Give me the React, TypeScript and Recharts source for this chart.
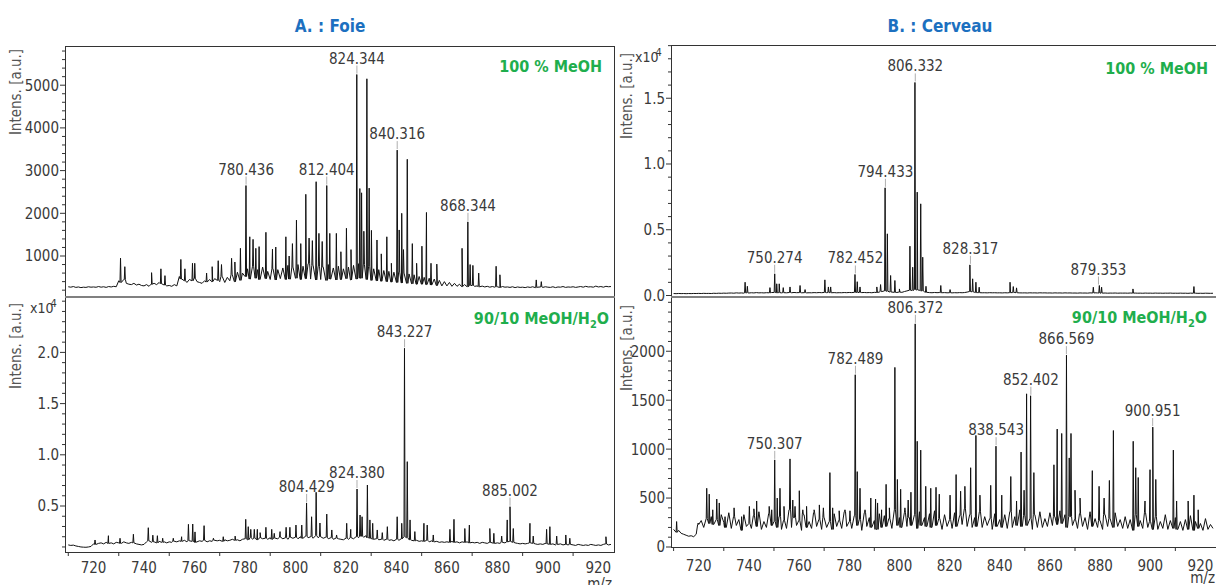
import React from "react";
import { ComposedChart, Line, Scatter, XAxis, YAxis } from "recharts";

const FONT = "'DejaVu Sans Condensed', 'DejaVu Sans', sans-serif";
const INK = "#3a3a3a";
const BLUE = "#1c70c0";
const GREEN = "#1fae4d";

// m/z axis
const MZ0 = 710;
const xLabelTicks = [720, 740, 760, 780, 800, 820, 840, 860, 880, 900, 920];
const xMinorTicks = [710, 730, 750, 770, 790, 810, 830, 850, 870, 890, 910];

// y tick labels
const foieMeohTicks = [1000, 2000, 3000, 4000, 5000];
const foieH2oTicks = [5000, 10000, 15000, 20000];
const cerveauMeohTicks = [0, 5000, 10000, 15000];
const cerveauH2oTicks = [0, 500, 1000, 1500, 2000];

// baselines, one value per m/z from 710 to 925
const foieMeohBase = [
  280, 270, 285, 265, 275, 260, 270, 265, 280, 270,
  275, 268, 285, 270, 280, 265, 285, 275, 290, 280,
  420, 380, 450, 360, 340, 330, 360, 320, 340, 310,
  300, 330, 290, 340, 360, 330, 380, 350, 320, 300,
  310, 290, 330, 300, 520, 460, 420, 380, 450, 420,
  480, 400, 380, 360, 420, 390, 450, 400, 470, 430,
  400, 520, 380, 500, 420, 560, 400, 620, 430, 600,
  520, 700, 460, 760, 480, 680, 450, 740, 470, 640,
  450, 700, 440, 680, 470, 720, 450, 780, 460, 740,
  480, 800, 450, 760, 470, 820, 460, 780, 440, 760,
  450, 740, 430, 800, 460, 720, 440, 760, 450, 700,
  470, 740, 440, 780, 460, 820, 480, 800, 450, 760,
  430, 700, 420, 680, 410, 660, 400, 640, 390, 620,
  380, 620, 370, 600, 360, 580, 350, 560, 340, 520,
  340, 500, 330, 480, 320, 460, 310, 430, 300, 400,
  300, 380, 290, 360, 290, 340, 285, 330, 280, 310,
  310, 290, 300, 280, 295, 275, 290, 270, 285, 270,
  280, 265, 285, 270, 275, 265, 280, 260, 275, 265,
  270, 260, 275, 265, 280, 260, 270, 275, 265, 280,
  270, 265, 280, 260, 275, 270, 285, 265, 275, 270,
  280, 265, 275, 285, 270, 290, 275, 280, 270, 295,
  275, 285, 270, 290, 280, 285,
];

const foieMeohPeaks = [
  [730.7, 950], [732.4, 750], [743, 610], [746.7, 700], [748.3, 540], [754.6, 920],
  [756.2, 700], [759.2, 830], [760.1, 830], [764.8, 600], [767, 750], [769.4, 890],
  [770.7, 800], [774.7, 946], [776, 860], [778.2, 1180], [780.4, 2650], [781.9, 1450],
  [783.2, 1390], [784.3, 1180], [785.6, 1220], [788.3, 1555], [790.9, 1160], [792.2, 1210],
  [796.2, 1450], [797.5, 1000], [798.8, 1290], [800.4, 1840], [802.1, 1290], [804.1, 2445],
  [805.4, 1420], [806.7, 1360], [808.2, 2740], [809.3, 1530], [810.6, 1340], [812.4, 2650],
  [813.6, 1530], [816.2, 1530], [818, 1100], [820.2, 1650], [822, 1150], [824.3, 5250],
  [825.5, 2580], [826.2, 2480], [827.1, 1580], [828.3, 5150], [829.2, 2590], [830.1, 1600],
  [832.3, 1375], [834, 1050], [836.2, 1450], [838, 830], [840.3, 3480], [841.1, 1610],
  [842.1, 2000], [842.8, 1150], [844.3, 3265], [846.3, 1290], [848, 830], [850.1, 1230],
  [851.9, 2020], [853.7, 830], [856, 810], [866, 1180], [868.3, 1800], [869.2, 800],
  [870.3, 780], [872.6, 600], [879.5, 760], [881, 560], [895.4, 440], [897.4, 400],
];

const foieMeohLabels = [[780.436, 2650], [812.404, 2650], [824.344, 5250], [840.316, 3480], [868.344, 1800]];

const foieH2oBase = [
  1200, 1150, 1180, 1100, 1050, 1000, 980, 970, 1000, 1050,
  1300, 1250, 1350, 1400, 1300, 1450, 1350, 1400, 1300, 1450,
  1400, 1350, 1500, 1400, 1350, 1450, 1400, 1300, 1250, 1200,
  1250, 1500, 1600, 1450, 1500, 1400, 1550, 1450, 1500, 1400,
  1500, 1450, 1550, 1500, 1600, 1550, 1650, 1500, 1600, 1550,
  1450, 1500, 1600, 1550, 1650, 1500, 1600, 1550, 1650, 1600,
  1650, 1550, 1700, 1600, 1650, 1750, 1650, 1700, 1600, 1750,
  1800, 1700, 1900, 1750, 1850, 1700, 1900, 1800, 1850, 1750,
  1900, 1750, 1850, 1800, 1950, 1800, 1900, 1750, 1950, 1850,
  1950, 1800, 2000, 1850, 2050, 1900, 2000, 1850, 2100, 1900,
  2000, 1850, 1950, 1800, 1900, 1750, 1850, 1800, 1750, 1700,
  1850, 1750, 1900, 1800, 2000, 1900, 2050, 1950, 2100, 1900,
  1850, 1750, 1800, 1700, 1750, 1650, 1750, 1650, 1700, 1600,
  1750, 1650, 1800, 2000, 1900, 1700, 1650, 1600, 1650, 1550,
  1600, 1550, 1650, 1500, 1600, 1500, 1550, 1450, 1500, 1450,
  1500, 1450, 1550, 1450, 1500, 1400, 1500, 1450, 1500, 1400,
  1450, 1400, 1450, 1350, 1450, 1400, 1350, 1450, 1400, 1350,
  1400, 1350, 1450, 1400, 1500, 1550, 1450, 1400, 1350, 1300,
  1350, 1300, 1350, 1400, 1350, 1300, 1250, 1300, 1250, 1350,
  1300, 1250, 1300, 1200, 1250, 1300, 1200, 1250, 1200, 1250,
  1200, 1150, 1250, 1200, 1150, 1200, 1150, 1250, 1200, 1150,
  1200, 1150, 1250, 1300, 1200, 1250,
];

const foieH2oPeaks = [
  [720.6, 1680], [725.9, 2100], [730.5, 1850], [735.8, 2240], [741.7, 2880], [743.5, 2150],
  [745.3, 2100], [747.4, 1850], [751.6, 1850], [754.9, 2000], [757.6, 3210], [759.3, 3240],
  [760.2, 2470], [763.8, 3080], [767.5, 1850], [771.4, 2000], [776.1, 2060], [780.3, 3700],
  [781.3, 2980], [782.3, 2720], [783.7, 2720], [784.9, 2720], [786, 2400], [788.3, 2920],
  [790.6, 2720], [791.6, 2330], [793.9, 2500], [796.3, 2920], [797.8, 2920], [800.2, 3140],
  [802.5, 3140], [804.4, 5300], [806.4, 3950], [808.2, 6340], [809.7, 3340], [812.4, 4210],
  [814.4, 2660], [816.3, 2170], [820.3, 3310], [821.9, 2720], [824.4, 6660], [825.6, 4120],
  [826.4, 3950], [828.5, 7050], [829.5, 3640], [830.6, 3310], [832.4, 2660], [834.4, 2400],
  [836.4, 2980], [840.3, 3950], [842.1, 3310], [843.2, 20400], [844.3, 9330], [845.4, 3640],
  [847.3, 2500], [850.9, 3310], [852.2, 3140], [854.6, 2170], [861.2, 2720], [862.8, 3700],
  [867.1, 2800], [868.9, 3140], [877, 2800], [878.6, 2330], [881.7, 2060], [883.9, 3640],
  [885, 4930], [886.3, 2800], [892.9, 3310], [894.2, 2060], [899.5, 2720], [900.8, 2980],
  [903.5, 2060], [907.1, 2170], [908.7, 1850], [923, 2000],
];

const foieH2oLabels = [[804.429, 5300], [824.38, 6660], [843.227, 20400], [885.002, 4930]];

const cerveauMeohBase = [
  150, 140, 155, 145, 150, 140, 150, 145, 155, 150,
  160, 150, 165, 155, 160, 150, 170, 160, 175, 165,
  180, 170, 185, 190, 175, 200, 185, 195, 180, 200,
  190, 210, 195, 220, 200, 210, 195, 215, 205, 225,
  230, 210, 220, 200, 215, 205, 225, 210, 230, 215,
  220, 205, 215, 200, 210, 205, 220, 210, 225, 215,
  230, 215, 225, 210, 220, 205, 215, 210, 225, 215,
  230, 220, 240, 225, 235, 220, 230, 215, 225, 210,
  240, 230, 260, 300, 350, 320, 280, 260, 240, 230,
  260, 240, 300, 350, 400, 380, 450, 420, 400, 350,
  280, 240, 220, 210, 230, 215, 225, 210, 220, 205,
  210, 200, 215, 205, 220, 210, 225, 260, 300, 280,
  240, 220, 215, 205, 210, 200, 215, 205, 210, 200,
  205, 195, 210, 200, 215, 220, 230, 210, 200, 195,
  200, 190, 205, 195, 200, 190, 205, 195, 200, 190,
  195, 185, 200, 190, 195, 185, 200, 190, 195, 185,
  190, 180, 195, 185, 190, 180, 200, 190, 205, 195,
  185, 180, 190, 175, 185, 180, 190, 175, 185, 180,
  185, 175, 190, 180, 185, 175, 180, 170, 185, 175,
  180, 170, 185, 175, 180, 170, 180, 175, 185, 170,
  175, 170, 180, 170, 175, 165, 180, 170, 175, 165,
  170, 165, 175, 170, 165, 170,
];

const cerveauMeohPeaks = [
  [738.5, 1010], [739.4, 700], [748.4, 600], [750.3, 1650], [751.1, 890], [752.1, 890],
  [753.7, 600], [756.4, 650], [760.4, 760], [762.4, 450], [770.3, 1190], [771.7, 650],
  [772.6, 650], [782.3, 1600], [783.2, 1050], [784.3, 650], [791, 650], [792.5, 830],
  [794.3, 8190], [795.2, 4690], [796.5, 1520], [798.2, 1140], [800, 500], [804.2, 3750],
  [805.3, 2150], [806.2, 16200], [807.1, 7860], [808.5, 6970], [809.3, 2910], [810.6, 700],
  [816.5, 760], [820.2, 450], [828.1, 2330], [829.2, 1270], [830.5, 1010], [831.8, 630],
  [844.1, 1010], [845.4, 680], [846.7, 580], [877.3, 630], [879.7, 760], [880.6, 630],
  [893.1, 500], [917.4, 680],
];

const cerveauMeohLabels = [[750.274, 1650], [782.452, 1600], [794.433, 8190], [806.332, 16200], [828.317, 2330], [879.353, 760]];

const cerveauH2oBase = [
  180, 150, 170, 140, 130, 120, 110, 115, 105, 130,
  230, 270, 200, 290, 240, 310, 230, 280, 220, 330,
  250, 200, 350, 190, 310, 220, 280, 170, 330, 210,
  240, 190, 320, 210, 360, 180, 260, 200, 340, 220,
  260, 200, 310, 180, 270, 190, 380, 200, 300, 220,
  270, 170, 330, 200, 260, 190, 350, 210, 280, 180,
  300, 200, 260, 180, 340, 210, 270, 190, 360, 210,
  260, 190, 320, 220, 280, 170, 350, 210, 300, 200,
  270, 180, 340, 200, 320, 210, 290, 190, 380, 220,
  300, 200, 350, 210, 300, 220, 330, 190, 360, 220,
  300, 210, 340, 200, 370, 220, 290, 180, 330, 210,
  280, 190, 350, 210, 320, 230, 390, 210, 330, 200,
  300, 210, 360, 200, 310, 220, 290, 180, 340, 210,
  280, 200, 330, 190, 360, 200, 310, 220, 380, 210,
  320, 220, 290, 180, 330, 200, 360, 200, 290, 210,
  350, 220, 310, 230, 370, 240, 330, 200, 310, 220,
  280, 190, 340, 210, 300, 180, 360, 210, 290, 200,
  270, 180, 330, 210, 290, 200, 350, 210, 280, 190,
  310, 190, 280, 170, 330, 210, 270, 190, 350, 200,
  260, 180, 310, 180, 260, 190, 330, 180, 270, 190,
  300, 180, 260, 170, 280, 180, 320, 170, 260, 190,
  240, 170, 290, 180, 230, 190,
];

const cerveauH2oPeaks = [
  [711.2, 260], [719.8, 245], [723.2, 600], [724.2, 540], [725.6, 380], [727.2, 490],
  [728.2, 450], [730.5, 310], [734.1, 400], [737.1, 310], [740.2, 415], [742, 390],
  [743.1, 470], [748.1, 415], [749.1, 380], [750.3, 890], [751.3, 500], [752.4, 600],
  [754, 415], [756.4, 900], [757.5, 480], [758.4, 415], [760.1, 575], [761.5, 380],
  [763, 415], [766, 380], [768.1, 430], [769.7, 400], [772.3, 760], [773.4, 400],
  [776, 370], [778.3, 380], [780.3, 370], [782.4, 1760], [783.2, 770], [784.3, 600],
  [786.3, 380], [788.6, 500], [790.5, 490], [791.3, 450], [792.9, 380], [794.7, 640],
  [796, 400], [798.2, 1835], [799.2, 690], [800.5, 590], [802.2, 400], [803.5, 480],
  [804.6, 560], [806.3, 2280], [807.1, 1080], [808.5, 990], [810.5, 620], [812.5, 600],
  [814.6, 610], [815.9, 540], [820.2, 530], [822.6, 740], [824.4, 570], [826.1, 620],
  [828.4, 810], [830.5, 1140], [832.1, 530], [836.4, 630], [838.5, 1030], [840.8, 530],
  [844.4, 720], [846.7, 470], [848.5, 970], [849.7, 580], [850.7, 1565], [852.3, 1545],
  [853.6, 760], [861.6, 840], [862.9, 1205], [864.7, 1160], [866.6, 1960], [867.7, 910],
  [868.4, 1160], [870, 580], [872, 500], [876.9, 780], [879.6, 620], [881.6, 500],
  [883.7, 680], [885.3, 1190], [893.2, 1080], [894.2, 810], [895.2, 710], [897.9, 470],
  [899.9, 790], [901, 1225], [902.2, 690], [909.2, 990], [910.5, 470], [915.1, 470],
  [917.4, 530], [919.1, 380],
];

const cerveauH2oLabels = [[750.307, 890], [782.489, 1760], [806.372, 2280], [838.543, 1030], [852.402, 1545], [866.569, 1960], [900.951, 1225]];

type Pt = { mz: number; i: number };

function buildSpectrum(base: number[], peaks: number[][]): Pt[] {
  const pts: Pt[] = base.map((v, k) => ({ mz: MZ0 + k, i: v }));
  peaks.forEach(([mz, h]) => {
    const k = Math.min(base.length - 1, Math.max(0, Math.round(mz) - MZ0));
    const foot = base[k];
    pts.push({ mz: mz - 0.22, i: foot }, { mz, i: h }, { mz: mz + 0.22, i: foot });
  });
  return pts.sort((a, b) => a.mz - b.mz);
}

function steps(from: number, to: number, step: number) {
  const out: number[] = [];
  for (let v = from; v <= to + 1e-6; v += step) out.push(v);
  return out;
}

const toPts = (rows: number[][]) => rows.map(([mz, i]) => ({ mz, i }));

const PeakLabel = (p: any) => {
  const { cx, cy, payload } = p;
  if (cx == null || cy == null) return <g />;
  return (
    <g>
      <line x1={cx} x2={cx} y1={cy - 1} y2={cy - 9} stroke="#9a9a9a" strokeWidth={0.8} />
      <text x={cx} y={cy - 11} textAnchor="middle" fontFamily={FONT} fontSize={15} fill={INK}>
        {payload.mz.toFixed(3)}
      </text>
    </g>
  );
};

interface PanelProps {
  left: number;
  top: number;
  width: number;
  height: number;
  marginTop: number;
  marginBottom?: number;
  yWidth: number;
  xDomain: [number, number];
  yDomain: [number, number];
  base: number[];
  peaks: number[][];
  labels: number[][];
  yMajor: number[];
  yMinor: number[];
  fmt: (v: number) => string;
  xHeight?: number;
  labelDy?: number;
}

function Panel(props: PanelProps) {
  const { left, top, width, height, marginTop, marginBottom, yWidth, xDomain, yDomain, base, peaks, labels, yMajor, yMinor, fmt, xHeight, labelDy } = props;
  const data = buildSpectrum(base, peaks);
  const showX = !!xHeight;
  const axisY = height - (xHeight || 0);
  const xTicks = [...xMinorTicks, ...xLabelTicks].sort((a, b) => a - b);

  const yTick = (p: any) => {
    const v = p.payload.value;
    const major = yMajor.includes(v);
    return (
      <g>
        <line x1={yWidth - (major ? 5 : 3)} x2={yWidth} y1={p.y} y2={p.y} stroke="#333" strokeWidth={1} />
        {major && (
          <text x={yWidth - 6} y={p.y} dy="0.36em" textAnchor="end" fontFamily={FONT} fontSize={15} fill={INK}>
            {fmt(v)}
          </text>
        )}
      </g>
    );
  };

  const xTick = (p: any) => {
    const v = p.payload.value;
    if (v % 20 === 0) {
      return (
        <text x={p.x} y={axisY + (labelDy || 21)} textAnchor="middle" fontFamily={FONT} fontSize={15} fill={INK}>
          {v}
        </text>
      );
    }
    return <line x1={p.x} x2={p.x} y1={axisY} y2={axisY + 4} stroke="#333" strokeWidth={1} />;
  };

  return (
    <div style={{ position: "absolute", left, top }}>
      <ComposedChart
        width={width}
        height={height}
        data={data}
        margin={{ top: marginTop, right: 0, bottom: marginBottom || 0, left: 0 }}
      >
        <XAxis
          dataKey="mz"
          type="number"
          domain={xDomain}
          allowDataOverflow
          hide={!showX}
          height={xHeight || 0}
          ticks={xTicks}
          interval={0}
          tick={xTick}
          tickLine={false}
          axisLine={false}
        />
        <YAxis
          dataKey="i"
          type="number"
          domain={yDomain}
          allowDataOverflow
          width={yWidth}
          ticks={yMinor}
          interval={0}
          tick={yTick}
          tickLine={false}
          axisLine={false}
        />
        <Line dataKey="i" type="linear" stroke="#111" strokeWidth={1} dot={false} isAnimationActive={false} />
        <Scatter data={toPts(labels)} dataKey="i" shape={PeakLabel} isAnimationActive={false} />
      </ComposedChart>
    </div>
  );
}

const intFmt = (v: number) => String(v);
const e4Fmt = (v: number) => (v / 10000).toFixed(1);

export default function App() {
  const txt = { fontFamily: FONT, fill: INK };
  return (
    <div style={{ position: "fixed", left: 0, top: 0, width: 1216, height: 585, background: "#fff", overflow: "hidden" }}>
      <Panel
        left={0} top={0} width={614} height={303} marginTop={46} marginBottom={6} yWidth={65}
        xDomain={[708.7, 926.2]} yDomain={[40, 5918]}
        base={foieMeohBase} peaks={foieMeohPeaks} labels={foieMeohLabels}
        yMajor={foieMeohTicks} yMinor={steps(200, 5800, 200)} fmt={intFmt}
      />
      <Panel
        left={0} top={297} width={614} height={288} marginTop={0} yWidth={65}
        xDomain={[708.7, 926.2]} yDomain={[508, 25410]}
        base={foieH2oBase} peaks={foieH2oPeaks} labels={foieH2oLabels}
        yMajor={foieH2oTicks} yMinor={steps(1000, 25000, 1000)} fmt={e4Fmt}
        xHeight={33} labelDy={21}
      />
      <Panel
        left={610} top={0} width={606} height={303} marginTop={45} marginBottom={6} yWidth={61}
        xDomain={[708.96, 926.2]} yDomain={[-114, 19049]}
        base={cerveauMeohBase} peaks={cerveauMeohPeaks} labels={cerveauMeohLabels}
        yMajor={cerveauMeohTicks} yMinor={steps(0, 19000, 1000)} fmt={e4Fmt}
      />
      <Panel
        left={610} top={297} width={606} height={288} marginTop={1} yWidth={61}
        xDomain={[708.96, 926.2]} yDomain={[0, 2544]}
        base={cerveauH2oBase} peaks={cerveauH2oPeaks} labels={cerveauH2oLabels}
        yMajor={cerveauH2oTicks} yMinor={steps(0, 2500, 100)} fmt={intFmt}
        xHeight={38} labelDy={24}
      />
      <svg width={1216} height={585} style={{ position: "absolute", left: 0, top: 0, pointerEvents: "none" }}>
        <g stroke="#333" strokeWidth={1} shapeRendering="crispEdges" fill="none">
          <line x1={65.5} y1={46} x2={65.5} y2={552} />
          <line x1={65} y1={46.5} x2={615} y2={46.5} />
          <line x1={614.5} y1={46} x2={614.5} y2={552} />
          <line x1={65} y1={552.5} x2={615} y2={552.5} />
          <line x1={671.5} y1={45} x2={671.5} y2={547} />
          <line x1={671} y1={45.5} x2={1216} y2={45.5} />
          <line x1={671} y1={547.5} x2={1216} y2={547.5} />
        </g>
        <g stroke="#808080" strokeWidth={2} shapeRendering="crispEdges">
          <line x1={65} y1={297} x2={615} y2={297} />
          <line x1={671} y1={297} x2={1216} y2={297} />
        </g>
        <text x={330} y={32} textAnchor="middle" fontFamily={FONT} fontWeight="bold" fontSize={17} fill={BLUE}>A. : Foie</text>
        <text x={940} y={32} textAnchor="middle" fontFamily={FONT} fontWeight="bold" fontSize={17} fill={BLUE}>B. : Cerveau</text>
        <text x={602} y={72} textAnchor="end" fontFamily={FONT} fontWeight="bold" fontSize={16} fill={GREEN}>100 % MeOH</text>
        <text x={1208} y={74} textAnchor="end" fontFamily={FONT} fontWeight="bold" fontSize={16} fill={GREEN}>100 % MeOH</text>
        <text x={609} y={324} textAnchor="end" fontFamily={FONT} fontWeight="bold" fontSize={16} fill={GREEN}>
          90/10 MeOH/H<tspan fontSize={11} dy={4}>2</tspan><tspan dy={-4}>O</tspan>
        </text>
        <text x={1207} y={323} textAnchor="end" fontFamily={FONT} fontWeight="bold" fontSize={16} fill={GREEN}>
          90/10 MeOH/H<tspan fontSize={11} dy={4}>2</tspan><tspan dy={-4}>O</tspan>
        </text>
        {[
          [21, 92],
          [21, 346],
          [632, 96],
          [632, 348],
        ].map(([x, y], k) => (
          <text key={k} x={x} y={y} transform={`rotate(-90 ${x} ${y})`} textAnchor="middle" fontFamily={FONT} fontSize={15} fill="#555">
            Intens. [a.u.]
          </text>
        ))}
        <text x={30} y={313} fontSize={14} {...txt}>
          x10<tspan dx={-3} dy={-6} fontSize={11}>4</tspan>
        </text>
        <text x={635} y={62} fontSize={14} {...txt}>
          x10<tspan dx={-3} dy={-6} fontSize={11}>4</tspan>
        </text>
        <text x={612} y={589} textAnchor="end" fontSize={15} {...txt}>m/z</text>
        <text x={1215} y={583} textAnchor="end" fontSize={15} {...txt}>m/z</text>
      </svg>
    </div>
  );
}
